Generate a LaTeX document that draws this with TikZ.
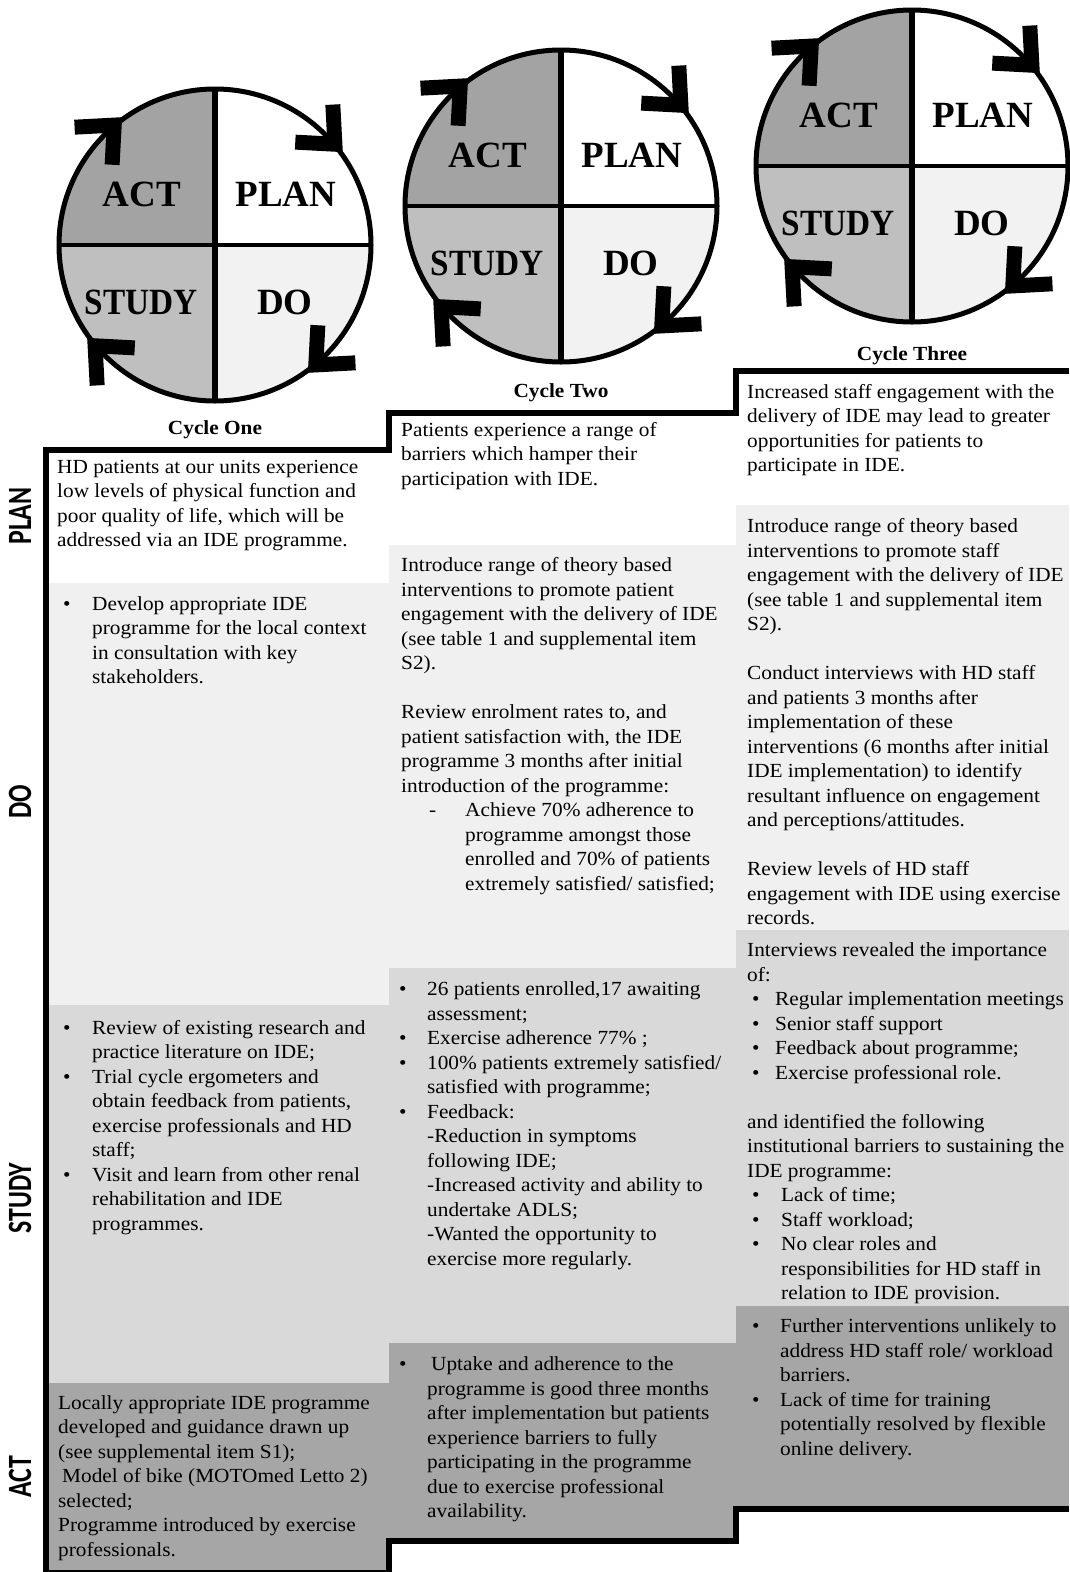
\documentclass[tikz,border=0pt]{standalone}
\usepackage{fontspec}
\setmainfont{Liberation Serif}
\newfontfamily\bodyfont[FakeStretch=1.065]{Liberation Serif}
\newfontfamily\labfont{Carlito}
\usepackage{graphicx}
\definecolor{rowdo}{gray}{0.94}
\definecolor{rowstudy}{gray}{0.85}
\definecolor{rowact}{gray}{0.65}
\definecolor{qact}{gray}{0.64}
\definecolor{qstudy}{gray}{0.75}
\definecolor{qdo}{gray}{0.95}
\newcommand\fsl{\rule{0pt}{15pt}}
\newcommand\bl[1]{\llap{\makebox[#1pt][l]{\textbullet}}}
\tikzset{
  txt/.style={anchor=north west, inner sep=0pt, align=left, font=\bodyfont\fontsize{20}{24.5}\selectfont},
  qlab/.style={inner sep=0pt, font=\fontsize{37}{37}\selectfont\bfseries},
  caption/.style={anchor=base, inner sep=0pt, font=\bodyfont\fontsize{20}{24}\selectfont\bfseries},
  side/.style={rotate=90, inner sep=0pt, font=\labfont\bfseries\fontsize{34}{34}\selectfont},
  frame/.style={line width=6pt, line join=miter},
  chev/.style={fill=black}
}
\newcommand\pdsacycle[5]{%
 \begin{scope}[shift={(#2,#3)}, x=1pt, y=1pt]
  \fill[white] (0,0) -- (90:156) arc[start angle=90,end angle=0,radius=156] -- cycle;
  \fill[qact] (0,0) -- (180:156) arc[start angle=180,end angle=90,radius=156] -- cycle;
  \fill[qdo] (0,0) -- (0:156) arc[start angle=0,end angle=-90,radius=156] -- cycle;
  \fill[qstudy] (0,0) -- (-90:156) arc[start angle=-90,end angle=-180,radius=156] -- cycle;
  \draw[line width=4pt] (-156,0) -- (156,0);
  \draw[line width=6pt] (0,156) -- (0,-156);
  \draw[line width=5pt] (0,0) circle[radius=156];
  \foreach \t in {36,-54,-144,126}
    \fill[chev, shift={(\t:158)}, rotate=\t-81] (0,0) -- (-35.7,32.1) -- (-45.7,21.0) -- (-22.4,0) -- (-45.7,-21.0) -- (-35.7,-32.1) -- cycle;
  \node[qlab] (act#1) at (-73,51) {ACT};
  \node[qlab] (plan#1) at (71,51) {PLAN};
  \node[qlab] (study#1) at (-74,-57) {\scalebox{0.9}[1]{STUDY}};
  \node[qlab] (do#1) at (70,-57) {DO};
  \node[caption] (cap#1) at (0,#5) {#4};
 \end{scope}
}
\begin{document}
\begin{tikzpicture}[x=1pt, y=-1pt]
\useasboundingbox (0,0) rectangle (1069,1572);
\fill[white] (0,0) rectangle (1069,1572);
% cells
\fill[rowdo] (46,583) rectangle (389,1005);
\fill[rowstudy] (46,1005) rectangle (389,1383);
\fill[rowact] (46,1383) rectangle (389,1572);
\fill[rowdo] (389,545) rectangle (736,968);
\fill[rowstudy] (389,968) rectangle (736,1343);
\fill[rowact] (389,1343) rectangle (736,1541);
\fill[rowdo] (736,505) rectangle (1069,930);
\fill[rowstudy] (736,930) rectangle (1069,1306);
\fill[rowact] (736,1306) rectangle (1069,1509);
% frame
\draw[frame] (1069,371) -- (736,371) -- (736,413) -- (389,413) -- (389,450) -- (46,450) -- (46,1572);
\draw[frame] (1069,1509) -- (736,1509) -- (736,1541) -- (389,1541) -- (389,1572);
\draw[line width=3pt] (46,1571) -- (389,1571);
% cycles
\pdsacycle{c1}{215}{245}{Cycle One}{-189}
\pdsacycle{c2}{561}{206}{Cycle Two}{-191}
\pdsacycle{c3}{912}{166}{Cycle Three}{-194}
% side labels
\node[side] (sideplan) at (20,516) {\scalebox{0.76}[1]{PLAN}};
\node[side] (sidedo) at (20,802) {\scalebox{0.76}[1]{DO}};
\node[side] (sidestudy) at (20,1198) {\scalebox{0.76}[1]{STUDY}};
\node[side] (sideact) at (20,1477) {\scalebox{0.76}[1]{ACT}};
% column 1
\node[txt] (c1plan) at (57,458) {\fsl HD patients at our units experience\\ low levels of physical function and\\ poor quality of life, which will be\\ addressed via an IDE programme.};
\node[txt] (c1do) at (92,595) {\fsl\bl{29}Develop appropriate IDE\\ programme for the local context\\ in consultation with key\\ stakeholders.};
\node[txt] (c1study) at (92,1019) {\fsl\bl{29}Review of existing research and\\ practice literature on IDE;\\ \bl{29}Trial cycle ergometers and\\ obtain feedback from patients,\\ exercise professionals and HD\\ staff;\\ \bl{29}Visit and learn from other renal\\ rehabilitation and IDE\\ programmes.};
\node[txt] (c1act) at (58,1394) {\fsl Locally appropriate IDE programme\\ developed and guidance drawn up\\ (see supplemental item S1);\\ \hspace*{4pt}Model of bike (MOTOmed Letto 2)\\ selected;\\ Programme introduced by exercise\\ professionals.};
% column 2
\node[txt] (c2plan) at (401,421) {\fsl Patients experience a range of\\ barriers which hamper their\\ participation with IDE.};
\node[txt] (c2do) at (401,556.5) {\fsl Introduce range of theory based\\ interventions to promote patient\\ engagement with the delivery of IDE\\ (see table 1 and supplemental item\\ S2).\\ \mbox{}\\ Review enrolment rates to, and\\ patient satisfaction with, the IDE\\ programme 3 months after initial\\ introduction of the programme:};
\node[txt] (c2dash) at (465,801.5) {\fsl\llap{\makebox[36pt][l]{-}}Achieve 70\% adherence to\\ programme amongst those\\ enrolled and 70\% of patients\\ extremely satisfied/ satisfied;};
\node[txt] (c2study) at (427,980.6) {\fsl\bl{28}26 patients enrolled,17 awaiting\\ assessment;\\ \bl{28}Exercise adherence 77\% ;\\ \bl{28}100\% patients extremely satisfied/\\ satisfied with programme;\\ \bl{28}Feedback:\\ -Reduction in symptoms\\ following IDE;\\ -Increased activity and ability to\\ undertake ADLS;\\ -Wanted the opportunity to\\ exercise more regularly.};
\node[txt] (c2act) at (427,1355.5) {\fsl\bl{28}\hspace*{4pt}Uptake and adherence to the\\ programme is good three months\\ after implementation but patients\\ experience barriers to fully\\ participating in the programme\\ due to exercise professional\\ availability.};
% column 3
\node[txt] (c3plan) at (747,383) {\fsl Increased staff engagement with the\\ delivery of IDE may lead to greater\\ opportunities for patients to\\ participate in IDE.};
\node[txt] (c3do) at (747,517.4) {\fsl Introduce range of theory based\\ interventions to promote staff\\ engagement with the delivery of IDE\\ (see table 1 and supplemental item\\ S2).\\ \mbox{}\\ Conduct interviews with HD staff\\ and patients 3 months after\\ implementation of these\\ interventions (6 months after initial\\ IDE implementation) to identify\\ resultant influence on engagement\\ and perceptions/attitudes.\\ \mbox{}\\ Review levels of HD staff\\ engagement with IDE using exercise\\ records.};
\node[txt] (c3studya) at (747,941.5) {\fsl Interviews revealed the importance\\ of:};
\node[txt] (c3studyb) at (775,990.5) {\fsl\bl{23}Regular implementation meetings\\ \bl{23}Senior staff support\\ \bl{23}Feedback about programme;\\ \bl{23}Exercise professional role.};
\node[txt] (c3studyc) at (747,1113) {\fsl and identified the following\\ institutional barriers to sustaining the\\ IDE programme:};
\node[txt] (c3studyd) at (781,1186.5) {\fsl\bl{29}Lack of time;\\ \bl{29}Staff workload;\\ \bl{29}No clear roles and\\ responsibilities for HD staff in\\ relation to IDE provision.};
\node[txt] (c3act) at (780,1317.4) {\fsl\bl{28}Further interventions unlikely to\\ address HD staff role/ workload\\ barriers.\\ \bl{28}Lack of time for training\\ potentially resolved by flexible\\ online delivery.};
\end{tikzpicture}
\end{document}
